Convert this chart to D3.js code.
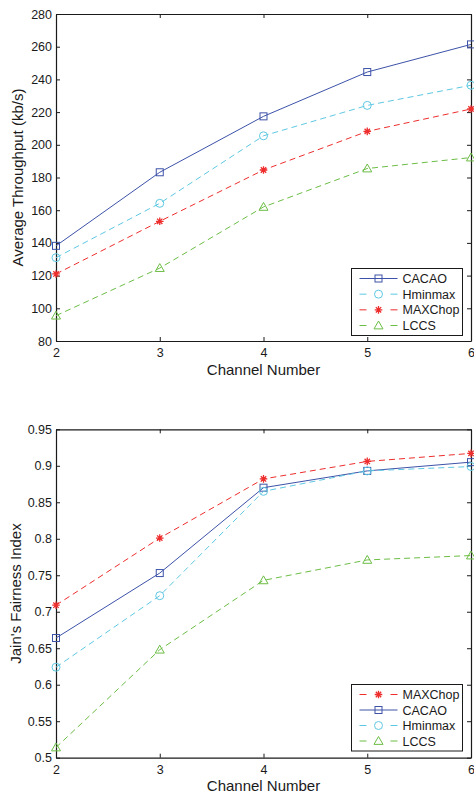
<!DOCTYPE html>
<html>
<head>
<meta charset="utf-8">
<script src="https://cdn.jsdelivr.net/npm/d3@7"></script>
<style>
  html, body { margin: 0; padding: 0; background: #fff; }
  svg { display: block; }
  text { font-family: "Liberation Sans", Arial, Helvetica, sans-serif; fill: #1a1a1a; }
</style>
</head>
<body>
<svg id="fig" width="474" height="794"></svg>
<script>
// Channel counts on the x axis (shared by both panels)
const channels = [2, 3, 4, 5, 6];

// Panel 1: average throughput (kb/s)
const thrCACAO   = [138.2, 183.2, 217.4, 244.5, 261.4];
const thrHminmax = [131.0, 164.2, 205.5, 224.1, 236.4];
const thrMAXChop = [121.0, 153.2, 184.6, 208.2, 221.9];
const thrLCCS    = [95.5, 124.6, 162.0, 185.5, 192.2];
const thrTicks   = [80, 100, 120, 140, 160, 180, 200, 220, 240, 260, 280];

// Panel 2: Jain's fairness index
const fairMAXChop = [0.709, 0.801, 0.882, 0.906, 0.917];
const fairCACAO   = [0.664, 0.753, 0.870, 0.893, 0.905];
const fairHminmax = [0.624, 0.722, 0.865, 0.893, 0.899];
const fairLCCS    = [0.514, 0.648, 0.743, 0.771, 0.777];
const fairTicks   = [0.5, 0.55, 0.6, 0.65, 0.7, 0.75, 0.8, 0.85, 0.9, 0.95];

const style = {
  CACAO:   { color: "#3d52a8", dash: null,  marker: "square" },
  Hminmax: { color: "#5ec8e2", dash: "6,4", marker: "circle" },
  MAXChop: { color: "#ee2d2d", dash: "6,4", marker: "star" },
  LCCS:    { color: "#6cbd45", dash: "6,4", marker: "triangle" }
};

const svg = d3.select("#fig");

function drawMarker(g, type, x, y, color) {
  if (type === "square") {
    g.append("rect").attr("x", x - 3.5).attr("y", y - 3.5).attr("width", 7).attr("height", 7)
      .attr("fill", "none").attr("stroke", color).attr("stroke-width", 1);
  } else if (type === "circle") {
    g.append("circle").attr("cx", x).attr("cy", y).attr("r", 4)
      .attr("fill", "none").attr("stroke", color).attr("stroke-width", 1);
  } else if (type === "triangle") {
    const h = 4.5;
    g.append("path").attr("d", `M${x},${y - h}L${x + h},${y + h * 0.75}L${x - h},${y + h * 0.75}Z`)
      .attr("fill", "none").attr("stroke", color).attr("stroke-width", 1);
  } else if (type === "star") {
    const r = 3.8;
    let d = "";
    for (let k = 0; k < 4; k++) {
      const a = k * Math.PI / 4;
      const dx = r * Math.cos(a), dy = r * Math.sin(a);
      d += `M${x - dx},${y - dy}L${x + dx},${y + dy}`;
    }
    g.append("path").attr("d", d).attr("stroke", color).attr("stroke-width", 1.3).attr("fill", "none");
  }
}

function panel(cfg) {
  const { left, right, top, bottom, yDomain, yTicks, yFmt, series, yLabel, yLabelX, xLabelY, legend } = cfg;
  const x = d3.scaleLinear().domain([2, 6]).range([left, right]);
  const y = d3.scaleLinear().domain(yDomain).range([bottom, top]);
  const g = svg.append("g");

  // box with inward ticks on all four sides
  const axes = g.append("g").attr("class", "axes");
  axes.append("g").attr("transform", `translate(0,${bottom})`)
    .call(d3.axisBottom(x).tickValues(channels).tickFormat(d3.format("d")).tickSizeInner(-4).tickSizeOuter(0).tickPadding(7));
  axes.append("g").attr("transform", `translate(0,${top})`)
    .call(d3.axisTop(x).tickValues(channels).tickFormat("").tickSizeInner(-4).tickSizeOuter(0));
  axes.append("g").attr("transform", `translate(${left},0)`)
    .call(d3.axisLeft(y).tickValues(yTicks).tickFormat(yFmt).tickSizeInner(-4).tickSizeOuter(0).tickPadding(4));
  axes.append("g").attr("transform", `translate(${right},0)`)
    .call(d3.axisRight(y).tickValues(yTicks).tickFormat("").tickSizeInner(-4).tickSizeOuter(0));
  axes.selectAll(".domain").attr("stroke", "#1a1a1a").attr("stroke-width", 1.2);
  axes.selectAll(".tick line").attr("stroke", "#1a1a1a");
  axes.selectAll(".tick text").attr("font-size", 12.5).attr("fill", "#1a1a1a")
    .style("font-family", "'Liberation Sans', Arial, Helvetica, sans-serif");

  // series
  const line = d3.line().x((d, i) => x(channels[i])).y(d => y(d));
  series.forEach(s => {
    const st = style[s.name];
    g.append("path").datum(s.values).attr("d", line)
      .attr("fill", "none").attr("stroke", st.color).attr("stroke-width", 1)
      .attr("stroke-dasharray", st.dash);
    const mg = g.append("g");
    s.values.forEach((v, i) => drawMarker(mg, st.marker, x(channels[i]), y(v), st.color));
  });

  // axis titles
  g.append("text").attr("x", (left + right) / 2).attr("y", xLabelY)
    .attr("text-anchor", "middle").attr("font-size", 15).text("Channel Number");
  g.append("text").attr("transform", `translate(${yLabelX},${(top + bottom) / 2}) rotate(-90)`)
    .attr("text-anchor", "middle").attr("font-size", 15).text(yLabel);

  // legend
  const lg = g.append("g");
  lg.append("rect").attr("x", legend.x0).attr("y", legend.y0)
    .attr("width", legend.x1 - legend.x0).attr("height", legend.y1 - legend.y0)
    .attr("fill", "#fff").attr("stroke", "#1a1a1a").attr("stroke-width", 1);
  const rowH = (legend.y1 - legend.y0 - 20) / (legend.order.length - 1);
  legend.order.forEach((name, i) => {
    const st = style[name];
    const cy = legend.y0 + 10 + i * rowH;
    lg.append("line").attr("x1", legend.x0 + 8).attr("x2", legend.x0 + 46)
      .attr("y1", cy).attr("y2", cy).attr("stroke", st.color).attr("stroke-width", 1)
      .attr("stroke-dasharray", st.dash ? "7,24" : null);
    drawMarker(lg, st.marker, legend.x0 + 27, cy, st.color);
    lg.append("text").attr("x", legend.x0 + 51).attr("y", cy + 4.5)
      .attr("font-size", 12.5).text(name);
  });
}

panel({
  left: 56, right: 471, top: 14, bottom: 341,
  yDomain: [80, 280], yTicks: thrTicks, yFmt: d3.format("d"),
  yLabel: "Average Throughput (kb/s)", yLabelX: 23, xLabelY: 375,
  series: [
    { name: "CACAO", values: thrCACAO },
    { name: "Hminmax", values: thrHminmax },
    { name: "MAXChop", values: thrMAXChop },
    { name: "LCCS", values: thrLCCS }
  ],
  legend: { x0: 351.5, x1: 462.5, y0: 268.5, y1: 335.5, order: ["CACAO", "Hminmax", "MAXChop", "LCCS"] }
});

panel({
  left: 56, right: 471, top: 429.3, bottom: 757.7,
  yDomain: [0.5, 0.95], yTicks: fairTicks, yFmt: d => String(+d.toFixed(2)),
  yLabel: "Jain's Fairness Index", yLabelX: 20.5, xLabelY: 790.5,
  series: [
    { name: "MAXChop", values: fairMAXChop },
    { name: "CACAO", values: fairCACAO },
    { name: "Hminmax", values: fairHminmax },
    { name: "LCCS", values: fairLCCS }
  ],
  legend: { x0: 351.5, x1: 462.5, y0: 684.5, y1: 751, order: ["MAXChop", "CACAO", "Hminmax", "LCCS"] }
});
</script>
</body>
</html>
